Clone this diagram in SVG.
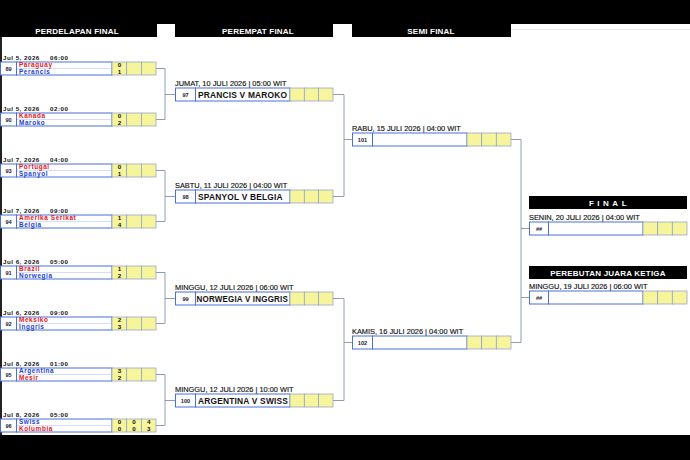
<svg xmlns="http://www.w3.org/2000/svg" width="690" height="460" viewBox="0 0 690 460">
<style>
.bg{fill:#000}
.hdrt{fill:#fff;font-family:"Liberation Sans",Arial,sans-serif;font-weight:bold;font-size:8px;text-anchor:middle;letter-spacing:0.2px}
.box{fill:#fff;stroke:#4a70d8;stroke-width:1}
.div{stroke:#b8c6ee;stroke-width:0.6}
.sc{fill:#f7f59c;stroke:#8a9ccc;stroke-width:0.7}
.num{font-family:"Liberation Sans",Arial,sans-serif;font-weight:bold;font-size:5.6px;fill:#1a1a3a;text-anchor:middle}
.d16{font-family:"Liberation Sans",Arial,sans-serif;font-weight:bold;font-size:6.2px;fill:#111;letter-spacing:0.5px}
.t{font-family:"Liberation Sans",Arial,sans-serif;font-weight:bold;font-size:6.4px;letter-spacing:0.6px}
.r{fill:#e8141b}
.b{fill:#1c3fd6}
.s{font-family:"Liberation Sans",Arial,sans-serif;font-weight:bold;font-size:6.2px;fill:#111;text-anchor:middle}
.dt{font-family:"Liberation Sans",Arial,sans-serif;font-size:7.4px;fill:#111;stroke:#111;stroke-width:0.15}
.qn{font-family:"Liberation Sans",Arial,sans-serif;font-weight:bold;font-size:8.4px;fill:#111;letter-spacing:0.2px}
.con{fill:none;stroke:#8792a6;stroke-width:0.9}
</style>
<rect width="690" height="460" fill="#fff"/>
<rect class="bg" x="0" y="0" width="690" height="24"/>
<rect class="bg" x="0" y="435" width="690" height="25"/>
<line x1="511" y1="29.5" x2="690" y2="29.5" stroke="#e8e8ec" stroke-width="1"/>
<line x1="1" y1="37" x2="1" y2="435" stroke="#222" stroke-width="2"/>

<g id="headers">
<rect class="bg" x="0" y="24" width="157" height="13"/>
<text class="hdrt" x="77" y="33.5">PERDELAPAN FINAL</text>
<rect class="bg" x="175" y="24" width="158" height="13"/>
<text class="hdrt" x="258" y="33.5">PEREMPAT FINAL</text>
<rect class="bg" x="352" y="24" width="159" height="13"/>
<text class="hdrt" x="431" y="33.5">SEMI FINAL</text>
</g>

<g id="connectors">
<path class="con" d="M156,68.5H165V119.5H156M165,94.5H175"/>
<path class="con" d="M156,170.5H165V221.5H156M165,196.5H175"/>
<path class="con" d="M156,272.5H165V323.5H156M165,298.5H175"/>
<path class="con" d="M156,374.5H165V425.5H156M165,400.5H175"/>
<path class="con" d="M333,94.5H344V196.5H333M344,139.5H352"/>
<path class="con" d="M333,298.5H344V400.5H333M344,342.5H352"/>
<path class="con" d="M511,139.5H521V342.5H511M521,228.5H529M521,297.5H529"/>
</g>

<g id="m89" transform="translate(0,62)">
<text class="d16" x="3" y="-2">Jul 5, 2026</text><text class="d16" x="50" y="-2">06:00</text>
<rect class="box" x="0.5" y="0" width="16" height="13"/><rect class="box" x="16.5" y="0" width="95.5" height="13"/>
<line class="div" x1="17" y1="6.5" x2="112" y2="6.5"/>
<rect class="sc" x="112" y="0" width="14.7" height="13"/><rect class="sc" x="126.7" y="0" width="14.7" height="13"/><rect class="sc" x="141.4" y="0" width="14.6" height="13"/>
<text class="num" x="8.5" y="8.8">89</text>
<text class="t r" x="19" y="5.4">Paraguay</text><text class="t b" x="19" y="11.9">Perancis</text>
<text class="s" x="119.4" y="5.4">0</text><text class="s" x="119.4" y="11.9">1</text>
</g>
<g id="m90" transform="translate(0,113)">
<text class="d16" x="3" y="-2">Jul 5, 2026</text><text class="d16" x="50" y="-2">02:00</text>
<rect class="box" x="0.5" y="0" width="16" height="13"/><rect class="box" x="16.5" y="0" width="95.5" height="13"/>
<line class="div" x1="17" y1="6.5" x2="112" y2="6.5"/>
<rect class="sc" x="112" y="0" width="14.7" height="13"/><rect class="sc" x="126.7" y="0" width="14.7" height="13"/><rect class="sc" x="141.4" y="0" width="14.6" height="13"/>
<text class="num" x="8.5" y="8.8">90</text>
<text class="t r" x="19" y="5.4">Kanada</text><text class="t b" x="19" y="11.9">Maroko</text>
<text class="s" x="119.4" y="5.4">0</text><text class="s" x="119.4" y="11.9">2</text>
</g>
<g id="m93" transform="translate(0,164)">
<text class="d16" x="3" y="-2">Jul 7, 2026</text><text class="d16" x="50" y="-2">04:00</text>
<rect class="box" x="0.5" y="0" width="16" height="13"/><rect class="box" x="16.5" y="0" width="95.5" height="13"/>
<line class="div" x1="17" y1="6.5" x2="112" y2="6.5"/>
<rect class="sc" x="112" y="0" width="14.7" height="13"/><rect class="sc" x="126.7" y="0" width="14.7" height="13"/><rect class="sc" x="141.4" y="0" width="14.6" height="13"/>
<text class="num" x="8.5" y="8.8">93</text>
<text class="t r" x="19" y="5.4">Portugal</text><text class="t b" x="19" y="11.9">Spanyol</text>
<text class="s" x="119.4" y="5.4">0</text><text class="s" x="119.4" y="11.9">1</text>
</g>
<g id="m94" transform="translate(0,215)">
<text class="d16" x="3" y="-2">Jul 7, 2026</text><text class="d16" x="50" y="-2">09:00</text>
<rect class="box" x="0.5" y="0" width="16" height="13"/><rect class="box" x="16.5" y="0" width="95.5" height="13"/>
<line class="div" x1="17" y1="6.5" x2="112" y2="6.5"/>
<rect class="sc" x="112" y="0" width="14.7" height="13"/><rect class="sc" x="126.7" y="0" width="14.7" height="13"/><rect class="sc" x="141.4" y="0" width="14.6" height="13"/>
<text class="num" x="8.5" y="8.8">94</text>
<text class="t r" x="19" y="5.4">Amerika Serikat</text><text class="t b" x="19" y="11.9">Belgia</text>
<text class="s" x="119.4" y="5.4">1</text><text class="s" x="119.4" y="11.9">4</text>
</g>
<g id="m91" transform="translate(0,266)">
<text class="d16" x="3" y="-2">Jul 6, 2026</text><text class="d16" x="50" y="-2">05:00</text>
<rect class="box" x="0.5" y="0" width="16" height="13"/><rect class="box" x="16.5" y="0" width="95.5" height="13"/>
<line class="div" x1="17" y1="6.5" x2="112" y2="6.5"/>
<rect class="sc" x="112" y="0" width="14.7" height="13"/><rect class="sc" x="126.7" y="0" width="14.7" height="13"/><rect class="sc" x="141.4" y="0" width="14.6" height="13"/>
<text class="num" x="8.5" y="8.8">91</text>
<text class="t r" x="19" y="5.4">Brazil</text><text class="t b" x="19" y="11.9">Norwegia</text>
<text class="s" x="119.4" y="5.4">1</text><text class="s" x="119.4" y="11.9">2</text>
</g>
<g id="m92" transform="translate(0,317)">
<text class="d16" x="3" y="-2">Jul 6, 2026</text><text class="d16" x="50" y="-2">09:00</text>
<rect class="box" x="0.5" y="0" width="16" height="13"/><rect class="box" x="16.5" y="0" width="95.5" height="13"/>
<line class="div" x1="17" y1="6.5" x2="112" y2="6.5"/>
<rect class="sc" x="112" y="0" width="14.7" height="13"/><rect class="sc" x="126.7" y="0" width="14.7" height="13"/><rect class="sc" x="141.4" y="0" width="14.6" height="13"/>
<text class="num" x="8.5" y="8.8">92</text>
<text class="t r" x="19" y="5.4">Meksiko</text><text class="t b" x="19" y="11.9">Inggris</text>
<text class="s" x="119.4" y="5.4">2</text><text class="s" x="119.4" y="11.9">3</text>
</g>
<g id="m95" transform="translate(0,368)">
<text class="d16" x="3" y="-2">Jul 8, 2026</text><text class="d16" x="50" y="-2">01:00</text>
<rect class="box" x="0.5" y="0" width="16" height="13"/><rect class="box" x="16.5" y="0" width="95.5" height="13"/>
<line class="div" x1="17" y1="6.5" x2="112" y2="6.5"/>
<rect class="sc" x="112" y="0" width="14.7" height="13"/><rect class="sc" x="126.7" y="0" width="14.7" height="13"/><rect class="sc" x="141.4" y="0" width="14.6" height="13"/>
<text class="num" x="8.5" y="8.8">95</text>
<text class="t b" x="19" y="5.4">Argentina</text><text class="t r" x="19" y="11.9">Mesir</text>
<text class="s" x="119.4" y="5.4">3</text><text class="s" x="119.4" y="11.9">2</text>
</g>
<g id="m96" transform="translate(0,419)">
<text class="d16" x="3" y="-2">Jul 8, 2026</text><text class="d16" x="50" y="-2">05:00</text>
<rect class="box" x="0.5" y="0" width="16" height="13"/><rect class="box" x="16.5" y="0" width="95.5" height="13"/>
<line class="div" x1="17" y1="6.5" x2="112" y2="6.5"/>
<rect class="sc" x="112" y="0" width="14.7" height="13"/><rect class="sc" x="126.7" y="0" width="14.7" height="13"/><rect class="sc" x="141.4" y="0" width="14.6" height="13"/>
<text class="num" x="8.5" y="8.8">96</text>
<text class="t b" x="19" y="5.4">Swiss</text><text class="t r" x="19" y="11.9">Kolumbia</text>
<text class="s" x="119.4" y="5.4">0</text><text class="s" x="119.4" y="11.9">0</text>
<text class="s" x="134.1" y="5.4">0</text><text class="s" x="134.1" y="11.9">0</text>
<text class="s" x="148.7" y="5.4">4</text><text class="s" x="148.7" y="11.9">3</text>
</g>

<g id="m97" transform="translate(175,88)">
<text class="dt" x="0" y="-2">JUMAT, 10 JULI 2026 | 05:00 WIT</text>
<rect class="box" x="0.5" y="0" width="20" height="13"/><rect class="box" x="20.5" y="0" width="94.5" height="13"/>
<rect class="sc" x="115" y="0" width="14.3" height="13"/><rect class="sc" x="129.3" y="0" width="14.3" height="13"/><rect class="sc" x="143.6" y="0" width="14.4" height="13"/>
<text class="num" x="10.5" y="8.6">97</text>
<text class="qn" x="23" y="9.6">PRANCIS V MAROKO</text>
</g>
<g id="m98" transform="translate(175,190)">
<text class="dt" x="0" y="-2">SABTU, 11 JULI 2026 | 04:00 WIT</text>
<rect class="box" x="0.5" y="0" width="20" height="13"/><rect class="box" x="20.5" y="0" width="94.5" height="13"/>
<rect class="sc" x="115" y="0" width="14.3" height="13"/><rect class="sc" x="129.3" y="0" width="14.3" height="13"/><rect class="sc" x="143.6" y="0" width="14.4" height="13"/>
<text class="num" x="10.5" y="8.6">98</text>
<text class="qn" x="23" y="9.6">SPANYOL V BELGIA</text>
</g>
<g id="m99" transform="translate(175,292)">
<text class="dt" x="0" y="-2">MINGGU, 12 JULI 2026 | 06:00 WIT</text>
<rect class="box" x="0.5" y="0" width="20" height="13"/><rect class="box" x="20.5" y="0" width="94.5" height="13"/>
<rect class="sc" x="115" y="0" width="14.3" height="13"/><rect class="sc" x="129.3" y="0" width="14.3" height="13"/><rect class="sc" x="143.6" y="0" width="14.4" height="13"/>
<text class="num" x="10.5" y="8.6">99</text>
<text class="qn" x="21.5" y="9.6" textLength="91.5" lengthAdjust="spacingAndGlyphs">NORWEGIA V INGGRIS</text>
</g>
<g id="m100" transform="translate(175,394)">
<text class="dt" x="0" y="-2">MINGGU, 12 JULI 2026 | 10:00 WIT</text>
<rect class="box" x="0.5" y="0" width="20" height="13"/><rect class="box" x="20.5" y="0" width="94.5" height="13"/>
<rect class="sc" x="115" y="0" width="14.3" height="13"/><rect class="sc" x="129.3" y="0" width="14.3" height="13"/><rect class="sc" x="143.6" y="0" width="14.4" height="13"/>
<text class="num" x="10.5" y="8.6">100</text>
<text class="qn" x="23" y="9.6">ARGENTINA V SWISS</text>
</g>

<g id="m101" transform="translate(352,133)">
<text class="dt" x="0" y="-2">RABU, 15 JULI 2026 | 04:00 WIT</text>
<rect class="box" x="0.5" y="0" width="20" height="13"/><rect class="box" x="20.5" y="0" width="94.5" height="13"/>
<rect class="sc" x="115" y="0" width="14.7" height="13"/><rect class="sc" x="129.7" y="0" width="14.6" height="13"/><rect class="sc" x="144.3" y="0" width="14.7" height="13"/>
<text class="num" x="10.5" y="8.6">101</text>
</g>
<g id="m102" transform="translate(352,336)">
<text class="dt" x="0" y="-2">KAMIS, 16 JULI 2026 | 04:00 WIT</text>
<rect class="box" x="0.5" y="0" width="20" height="13"/><rect class="box" x="20.5" y="0" width="94.5" height="13"/>
<rect class="sc" x="115" y="0" width="14.7" height="13"/><rect class="sc" x="129.7" y="0" width="14.6" height="13"/><rect class="sc" x="144.3" y="0" width="14.7" height="13"/>
<text class="num" x="10.5" y="8.6">102</text>
</g>

<g id="final" transform="translate(529,222)">
<rect class="bg" x="0" y="-26" width="158" height="13"/>
<text class="hdrt" x="80.5" y="-16.5" style="letter-spacing:3.5px">FINAL</text>
<text class="dt" x="0" y="-2">SENIN, 20 JULI 2026 | 04:00 WIT</text>
<rect class="box" x="0.5" y="0" width="19" height="13"/><rect class="box" x="19.5" y="0" width="94.5" height="13"/>
<rect class="sc" x="114" y="0" width="14.7" height="13"/><rect class="sc" x="128.7" y="0" width="14.6" height="13"/><rect class="sc" x="143.3" y="0" width="14.7" height="13"/>
<text class="num" x="10" y="8.6">##</text>
</g>
<g id="third" transform="translate(529,291)">
<rect class="bg" x="0" y="-25" width="158" height="13"/>
<text class="hdrt" x="79" y="-15.5">PEREBUTAN JUARA KETIGA</text>
<text class="dt" x="0" y="-2">MINGGU, 19 JULI 2026 | 06:00 WIT</text>
<rect class="box" x="0.5" y="0" width="19" height="13"/><rect class="box" x="19.5" y="0" width="94.5" height="13"/>
<rect class="sc" x="114" y="0" width="14.7" height="13"/><rect class="sc" x="128.7" y="0" width="14.6" height="13"/><rect class="sc" x="143.3" y="0" width="14.7" height="13"/>
<text class="num" x="10" y="8.6">##</text>
</g>
</svg>
